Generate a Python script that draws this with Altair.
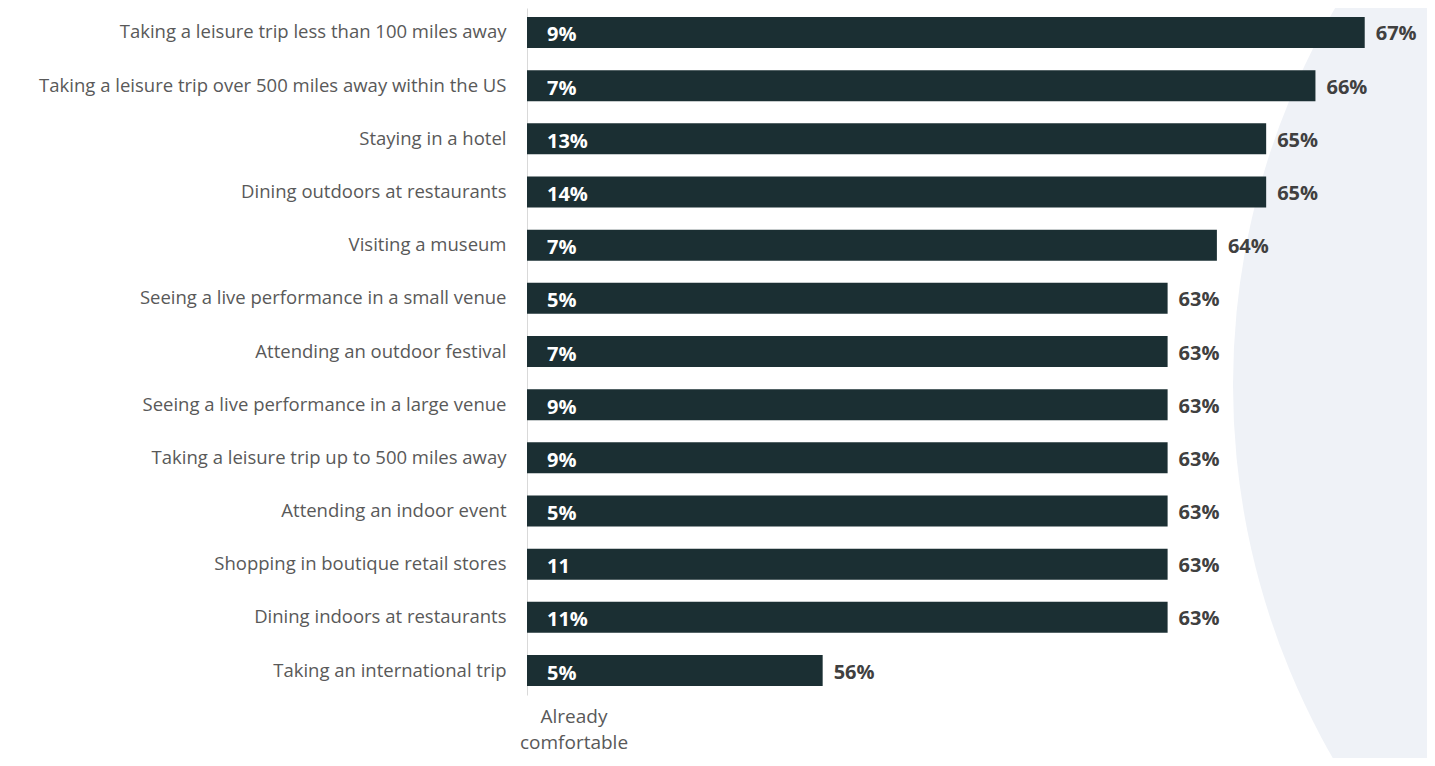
import altair as alt
import pandas as pd

categories = [
    "Taking a leisure trip less than 100 miles away",
    "Taking a leisure trip over 500 miles away within the US",
    "Staying in a hotel",
    "Dining outdoors at restaurants",
    "Visiting a museum",
    "Seeing a live performance in a small venue",
    "Attending an outdoor festival",
    "Seeing a live performance in a large venue",
    "Taking a leisure trip up to 500 miles away",
    "Attending an indoor event",
    "Shopping in boutique retail stores",
    "Dining indoors at restaurants",
    "Taking an international trip",
]
already = [9, 7, 13, 14, 7, 5, 7, 9, 9, 5, 11, 11, 5]
already_labels = ["9%", "7%", "13%", "14%", "7%", "5%", "7%", "9%", "9%", "5%", "11", "11%", "5%"]
total = [67, 66, 65, 65, 64, 63, 63, 63, 63, 63, 63, 63, 56]
total_labels = [f"{v}%" for v in total]
axis_domain = [50, 68]
title_lines = ["Already", "comfortable"]

df = pd.DataFrame({
    "category": categories,
    "already": already,
    "already_label": already_labels,
    "total": total,
    "total_label": total_labels,
    "base": [axis_domain[0]] * len(categories),
})
one = pd.DataFrame({"k": [0]})

FONT = "Open Sans"
BAR = "#1b2f33"

xscale = alt.Scale(domain=axis_domain, zero=False, nice=False)
yenc = alt.Y(
    "category:N",
    sort=categories,
    scale=alt.Scale(paddingInner=0.417, paddingOuter=0.169),
    axis=alt.Axis(
        title=None, ticks=False, domainColor="#d9d9d9", domainWidth=1,
        labelFont=FONT, labelFontSize=18.5, labelColor="#595959",
        labelPadding=21, labelLimit=700,
    ),
)

bg = alt.Chart(one).mark_point(
    shape="circle", filled=True, size=2232036, color="#eff2f7", opacity=1
).encode(x=alt.value(1453), y=alt.value(377))

bars = alt.Chart(df).mark_bar(color=BAR).encode(
    y=yenc,
    x=alt.X("total:Q", scale=xscale, axis=None),
    x2="base:Q",
)

inside = alt.Chart(df).mark_text(
    align="left", baseline="middle", dx=20, dy=3, font=FONT,
    fontSize=20, fontWeight="bold", color="white",
).encode(y=yenc, x=alt.X("base:Q", scale=xscale, axis=None), text="already_label:N")

ends = alt.Chart(df).mark_text(
    align="left", baseline="middle", dx=11, dy=2, font=FONT,
    fontSize=20, fontWeight="bold", color="#404040",
).encode(y=yenc, x=alt.X("total:Q", scale=xscale, axis=None), text="total_label:N")

t1 = alt.Chart(one).mark_text(
    text=title_lines[0], font=FONT, fontSize=19, color="#595959",
    align="center", baseline="middle",
).encode(x=alt.value(47), y=alt.value(709))
t2 = alt.Chart(one).mark_text(
    text=title_lines[1], font=FONT, fontSize=19, color="#595959",
    align="center", baseline="middle",
).encode(x=alt.value(47), y=alt.value(735))

chart = alt.layer(bg, bars, inside, ends, t1, t2).properties(
    width=887, height=687,
    autosize=alt.AutoSizeParams(type="none"),
    padding={"left": 519, "top": 0, "right": 13, "bottom": 63},
).configure_view(stroke=None)

chart.save("out.html", embed_options={"renderer": "svg", "actions": False})
